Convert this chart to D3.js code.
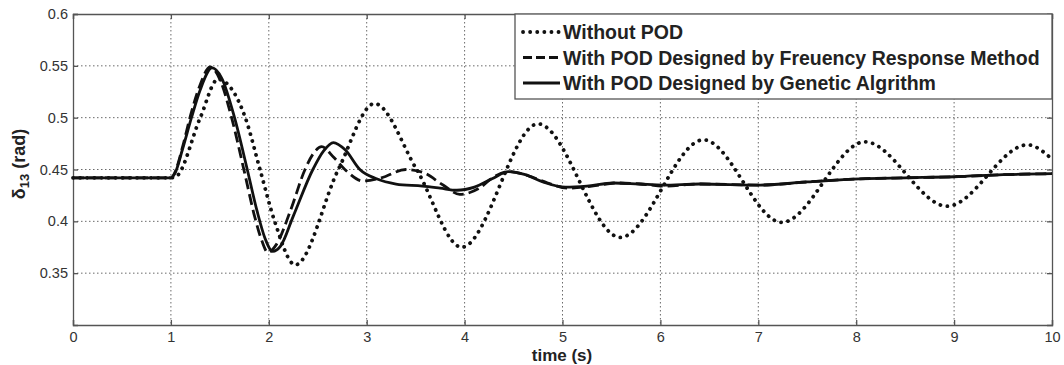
<!DOCTYPE html>
<html>
<head>
<meta charset="utf-8">
<script src="https://cdn.jsdelivr.net/npm/d3@7"></script>
<style>
  body { margin: 0; background: #fff; }
  svg text { font-family: Arial, "Liberation Sans", sans-serif; }
</style>
</head>
<body>
<div id="chart"></div>
<script>
// tick values
const xTicks = [0, 1, 2, 3, 4, 5, 6, 7, 8, 9, 10];
const yTicks = [0.35, 0.4, 0.45, 0.5, 0.55, 0.6];

// series: without POD (dotted)
const tNoPod = [0, 1.0, 1.05, 1.30, 1.48, 1.76, 1.91, 2.06, 2.27, 2.71, 3.08, 3.51, 3.97, 4.75, 5.59, 6.44, 7.24, 8.09, 8.93, 9.75, 10];
const vNoPod = [0.442, 0.442, 0.443, 0.500, 0.537, 0.500, 0.450, 0.400, 0.358, 0.450, 0.5136, 0.450, 0.375, 0.494, 0.3845, 0.4786, 0.399, 0.4767, 0.4146, 0.4738, 0.460];

// series: POD by frequency response (dashed)
const tFreq = [0, 1.0, 1.04, 1.12, 1.20, 1.30, 1.40, 1.50, 1.62, 1.75, 1.86, 1.93, 1.99, 2.08, 2.22, 2.37, 2.46, 2.54, 2.66, 2.80, 2.96, 3.15, 3.40, 3.58, 3.78, 3.95, 4.15, 4.30, 4.45, 4.65, 4.85, 5.05, 5.3, 5.55, 5.8, 6.05, 6.4, 7.02, 7.5, 8.04, 8.5, 9.0, 9.5, 10];
const vFreq = [0.442, 0.442, 0.447, 0.472, 0.502, 0.532, 0.549, 0.537, 0.500, 0.448, 0.403, 0.381, 0.370, 0.378, 0.410, 0.450, 0.466, 0.472, 0.462, 0.448, 0.439, 0.442, 0.450, 0.447, 0.435, 0.426, 0.432, 0.443, 0.448, 0.444, 0.437, 0.432, 0.434, 0.437, 0.436, 0.434, 0.436, 0.435, 0.438, 0.441, 0.442, 0.443, 0.445, 0.446];

// series: POD by genetic algorithm (solid)
const tGa = [0, 1.0, 1.04, 1.12, 1.21, 1.30, 1.42, 1.52, 1.65, 1.78, 1.88, 1.96, 2.04, 2.12, 2.25, 2.45, 2.56, 2.66, 2.78, 2.93, 3.10, 3.30, 3.57, 3.75, 3.92, 4.10, 4.28, 4.45, 4.62, 4.80, 5.03, 5.25, 5.52, 5.78, 6.03, 6.4, 7.02, 7.5, 8.04, 8.5, 9.0, 9.5, 10];
const vGa = [0.442, 0.442, 0.446, 0.470, 0.500, 0.527, 0.548, 0.538, 0.500, 0.450, 0.410, 0.384, 0.371, 0.376, 0.405, 0.450, 0.468, 0.476, 0.469, 0.450, 0.441, 0.436, 0.434, 0.432, 0.430, 0.433, 0.441, 0.448, 0.445, 0.438, 0.433, 0.434, 0.437, 0.436, 0.435, 0.436, 0.435, 0.438, 0.441, 0.442, 0.443, 0.445, 0.446];

const legendLabels = [
  'Without POD',
  'With POD Designed by Freuency Response Method',
  'With POD Designed by Genetic Algrithm'
];

const width = 1064, height = 365;
const margin = { top: 14, right: 12, bottom: 40, left: 73 };
const innerW = width - margin.left - margin.right;
const innerH = height - margin.top - margin.bottom;

const svg = d3.select('#chart').append('svg')
  .attr('width', width)
  .attr('height', height);

const g = svg.append('g')
  .attr('transform', `translate(${margin.left},${margin.top})`);

const x = d3.scaleLinear().domain([0, 10]).range([0, innerW]);
const y = d3.scaleLinear().domain([0.3, 0.6]).range([innerH, 0]);

// grid
g.append('g').selectAll('line')
  .data(xTicks.filter(d => d > 0 && d < 10))
  .enter().append('line')
  .attr('x1', d => x(d)).attr('x2', d => x(d))
  .attr('y1', 0).attr('y2', innerH)
  .attr('stroke', '#6a6a6a').attr('stroke-width', 1)
  .attr('stroke-dasharray', '1.5 2.5');

g.append('g').selectAll('line')
  .data(yTicks.filter(d => d < 0.6))
  .enter().append('line')
  .attr('x1', 0).attr('x2', innerW)
  .attr('y1', d => y(d)).attr('y2', d => y(d))
  .attr('stroke', '#6a6a6a').attr('stroke-width', 1)
  .attr('stroke-dasharray', '1.5 2.5');

// axes (ticks inside, MATLAB style)
g.append('g')
  .attr('transform', `translate(0,${innerH})`)
  .call(d3.axisBottom(x).tickValues(xTicks).tickSize(-5).tickPadding(7).tickFormat(d3.format('d')));
g.append('g')
  .call(d3.axisLeft(y).tickValues(yTicks).tickSize(-5).tickPadding(5).tickFormat(d => String(+d.toFixed(2))));
g.append('g')
  .call(d3.axisTop(x).tickValues(xTicks).tickSize(-5).tickFormat(''));
g.append('g')
  .attr('transform', `translate(${innerW},0)`)
  .call(d3.axisRight(y).tickValues(yTicks).tickSize(-5).tickFormat(''));

g.selectAll('.domain').attr('stroke', '#555').attr('stroke-width', 1.3);
g.selectAll('.tick line').attr('stroke', '#555').attr('stroke-width', 1.3);
g.selectAll('.tick text').attr('fill', '#333').style('font-size', '14.5px');

// lines
const line = d3.line()
  .x(d => x(d[0]))
  .y(d => y(d[1]))
  .curve(d3.curveMonotoneX);

const series = [
  { t: tNoPod, v: vNoPod, dash: '0.1 7', width: 3.8, cap: 'round' },
  { t: tFreq, v: vFreq, dash: '11 5', width: 2.8, cap: 'butt' },
  { t: tGa, v: vGa, dash: null, width: 2.8, cap: 'butt' }
];

series.forEach(s => {
  g.append('path')
    .datum(s.t.map((t, i) => [t, s.v[i]]))
    .attr('d', line)
    .attr('fill', 'none')
    .attr('stroke', '#111')
    .attr('stroke-width', s.width)
    .attr('stroke-linecap', s.cap)
    .attr('stroke-linejoin', 'round')
    .attr('stroke-dasharray', s.dash);
});

// legend
const lgX = 515 - margin.left, lgY = 0, lgW = innerW - lgX, lgH = 85;
const legend = g.append('g');
legend.append('rect')
  .attr('x', lgX).attr('y', lgY)
  .attr('width', lgW).attr('height', lgH)
  .attr('fill', '#fff').attr('stroke', '#555').attr('stroke-width', 1.3);

legendLabels.forEach((lab, i) => {
  const cy = lgY + 18 + i * 25.5;
  const s = series[i];
  legend.append('line')
    .attr('x1', lgX + 8).attr('x2', lgX + 45)
    .attr('y1', cy).attr('y2', cy)
    .attr('stroke', '#111')
    .attr('stroke-width', s.width)
    .attr('stroke-linecap', s.cap)
    .attr('stroke-dasharray', i === 1 ? '9 4' : s.dash);
  legend.append('text')
    .attr('x', lgX + 48).attr('y', cy + 7)
    .attr('fill', '#222')
    .style('font-size', '19.5px')
    .style('font-weight', 'bold')
    .text(lab);
});

// axis labels
svg.append('text')
  .attr('x', 562)
  .attr('y', 361)
  .attr('text-anchor', 'middle')
  .attr('fill', '#222')
  .style('font-size', '17px')
  .style('font-weight', 'bold')
  .text('time (s)');

const yl = svg.append('text')
  .attr('transform', 'translate(25,164) rotate(-90)')
  .attr('text-anchor', 'middle')
  .attr('fill', '#222')
  .style('font-size', '18px')
  .style('font-weight', 'bold');
yl.append('tspan').text('δ');
yl.append('tspan').attr('dy', 4).style('font-size', '13px').text('13');
yl.append('tspan').attr('dy', -4).text(' (rad)');
</script>
</body>
</html>
